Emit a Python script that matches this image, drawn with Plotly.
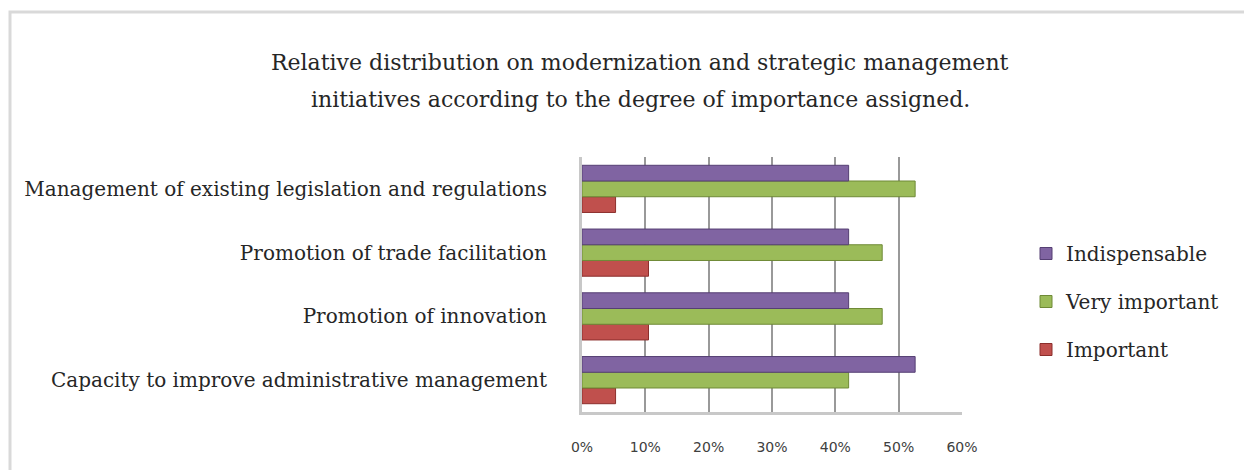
import plotly.graph_objects as go

categories = [
    "Capacity to improve administrative management",
    "Promotion of innovation",
    "Promotion of trade facilitation",
    "Management of existing legislation and regulations",
]
indispensable = [52.6, 42.1, 42.1, 42.1]
very_important = [42.1, 47.4, 47.4, 52.6]
important = [5.3, 10.5, 10.5, 5.3]
x_ticks = [0, 10, 20, 30, 40, 50, 60]
x_tick_labels = ["0%", "10%", "20%", "30%", "40%", "50%", "60%"]
title_lines = [
    "Relative distribution on modernization and strategic management",
    "initiatives according to the degree of importance assigned.",
]

W, H = 1244, 470
L, R, T, B = 582, 962, 157, 412

def px(x):
    return (x - L) / (R - L)

def py(y):
    return (B - y) / (B - T)

fig = go.Figure()
series = [
    ("Important", important, "#c0504d", "#8c2f2c", 3),
    ("Very important", very_important, "#9bbb59", "#6f8a37", 2),
    ("Indispensable", indispensable, "#8064a2", "#553f73", 1),
]
for name, vals, col, line, rank in series:
    fig.add_trace(go.Bar(
        y=categories, x=vals, name=name, orientation="h",
        legendgroup=name, legendrank=rank,
        marker=dict(color=col, line=dict(color=line, width=1)),
    ))

serif = "DejaVu Serif"
fig.update_layout(
    width=W, height=H,
    margin=dict(l=L, r=W - R, t=T, b=H - B),
    paper_bgcolor="white", plot_bgcolor="white",
    barmode="group", bargap=0.26, bargroupgap=0.0,
    font=dict(family=serif, size=20, color="#262626"),
    legend=dict(
        x=px(1026), y=py(234), xanchor="left", yanchor="top",
        traceorder="grouped", tracegroupgap=19,
        font=dict(family=serif, size=20, color="#262626"),
        itemwidth=30,
    ),
    showlegend=True,
)
for txt, yc in zip(title_lines, [62, 100]):
    fig.add_annotation(
        text=txt, xref="paper", yref="paper", x=px(640), y=py(yc),
        xanchor="center", yanchor="middle", showarrow=False,
        font=dict(family=serif, size=22, color="#262626"),
    )
fig.update_xaxes(
    range=[0, 60], tickvals=x_ticks, ticktext=x_tick_labels,
    showgrid=True, gridcolor="#999999", gridwidth=1.5,
    zeroline=False, showline=True, linecolor="#c8c8c8", linewidth=3,
    tickfont=dict(family="DejaVu Sans", size=14, color="#404040"),
    ticklabelstandoff=20,
)
fig.update_yaxes(
    showline=True, linecolor="#c8c8c8", linewidth=3,
    tickfont=dict(family=serif, size=20, color="#262626"),
    ticklabelstandoff=28, ticks="",
)
# outer frame
fig.add_shape(type="rect", xref="paper", yref="paper",
              x0=px(10), x1=px(1260), y0=py(480), y1=py(12),
              line=dict(color="#d9d9d9", width=3), fillcolor="rgba(0,0,0,0)", layer="below")
fig.write_html("out.html", config={"displayModeBar": False},
               post_script="document.body.style.margin='0';document.body.style.padding='0';")
